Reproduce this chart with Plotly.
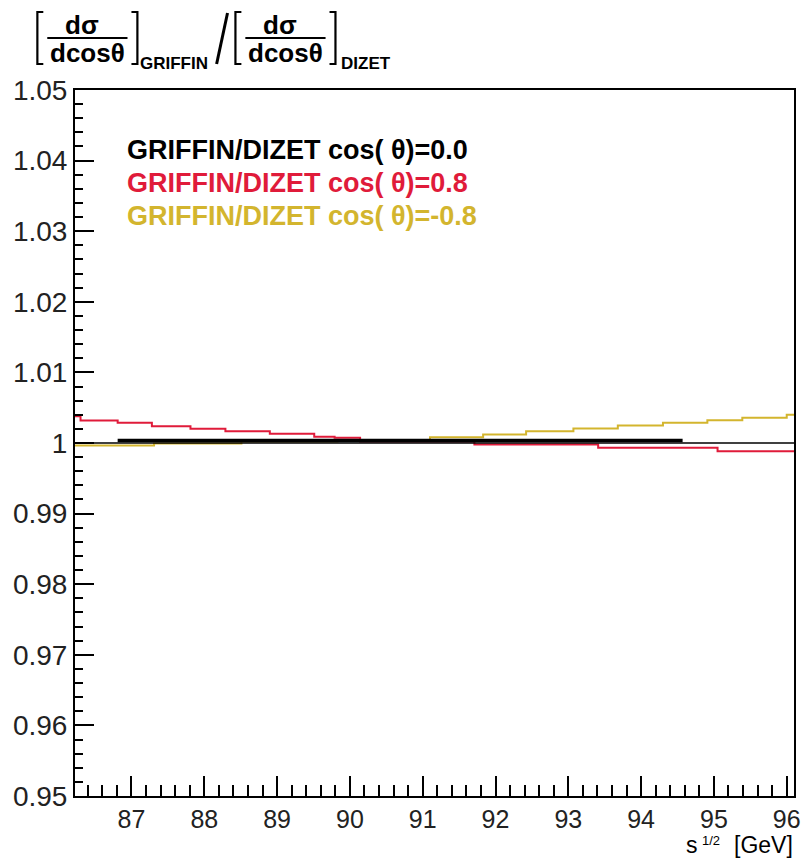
import plotly.graph_objects as go

# ---------------- data ----------------
red_edges = [86.22, 86.30, 86.81, 87.28, 87.81, 88.29, 88.90, 89.51, 89.79, 90.14, 91.71, 93.41, 95.05, 96.10]
red_vals = [1.0038, 1.0032, 1.00286, 1.00238, 1.00201, 1.00167, 1.0013, 1.00088, 1.00075, 1.0002, 0.9998, 0.99932, 0.99884]

yellow_edges = [86.22, 87.31, 88.51, 89.83, 91.10, 91.83, 92.42, 93.07, 93.68, 94.30, 94.91, 95.39, 96.00, 96.10]
yellow_vals = [0.99965, 0.99993, 1.0002, 1.0004, 1.0008, 1.0012, 1.00167, 1.00205, 1.00248, 1.00286, 1.00323, 1.00357, 1.0040]

black_edges = [86.81, 94.57]
black_vals = [1.00035]

legend_labels = ["GRIFFIN/DIZET cos( θ)=0.0", "GRIFFIN/DIZET cos( θ)=0.8", "GRIFFIN/DIZET cos( θ)=-0.8"]

x_tickvals = [87, 88, 89, 90, 91, 92, 93, 94, 95, 96]
x_ticktext = ["87", "88", "89", "90", "91", "92", "93", "94", "95", "96"]
y_tickvals = [0.95, 0.96, 0.97, 0.98, 0.99, 1.0, 1.01, 1.02, 1.03, 1.04, 1.05]
y_ticktext = ["0.95", "0.96", "0.97", "0.98", "0.99", "1", "1.01", "1.02", "1.03", "1.04", "1.05"]

# ---------------- styles ----------------
W, H = 806, 859
L, R, T, B = 75, 5, 90, 63
PW, PH = W - L - R, H - T - B
RED = "#e01b3a"
YEL = "#d3b52e"
FONT = "Liberation Sans, Arial, Helvetica, sans-serif"


def xp(px):
    return (px - L) / PW


def yp(py):
    return (H - B - py) / PH


def step(edges, vals):
    return list(edges), list(vals) + [vals[-1]]


fig = go.Figure()
for edges, vals, col, w in [(yellow_edges, yellow_vals, YEL, 2),
                            (red_edges, red_vals, RED, 2),
                            (black_edges, black_vals, "black", 3.5)]:
    xs, ys = step(edges, vals)
    fig.add_trace(go.Scatter(x=xs, y=ys, mode="lines", line=dict(color=col, width=w, shape="hv"),
                             showlegend=False, hoverinfo="skip"))

shapes = [dict(type="line", xref="paper", yref="y", x0=0, x1=1, y0=1.0, y1=1.0,
               line=dict(color="black", width=1.5))]
annotations = []

# legend texts
for lab, col, py in zip(legend_labels, ["black", RED, YEL], [150, 183, 216]):
    annotations.append(dict(text="<b>" + lab + "</b>", xref="paper", yref="paper", x=xp(125), y=yp(py),
                            xanchor="left", yanchor="middle", showarrow=False,
                            font=dict(family=FONT, size=27, color=col)))

# title: [dσ/dcosθ]_GRIFFIN / [dσ/dcosθ]_DIZET
def frac(x_left, x_right, sub, sub_x):
    cx = (x_left + x_right) / 2
    annotations.append(dict(text="<b>dσ</b>", xref="paper", yref="paper", x=xp(cx - 5), y=yp(25),
                            xanchor="center", yanchor="middle", showarrow=False,
                            font=dict(family=FONT, size=26, color="black")))
    annotations.append(dict(text="<b>dcosθ</b>", xref="paper", yref="paper", x=xp(cx), y=yp(53),
                            xanchor="center", yanchor="middle", showarrow=False,
                            font=dict(family=FONT, size=26, color="black")))
    shapes.append(dict(type="line", xref="paper", yref="paper", x0=xp(x_left), x1=xp(x_right),
                       y0=yp(38), y1=yp(38), line=dict(color="black", width=2)))
    bl, br = x_left - 10, x_right + 4
    shapes.append(dict(type="path", xref="paper", yref="paper",
                       path=f"M {xp(bl+6)},{yp(12)} L {xp(bl)},{yp(12)} L {xp(bl)},{yp(64)} L {xp(bl+6)},{yp(64)}",
                       line=dict(color="black", width=2.2)))
    shapes.append(dict(type="path", xref="paper", yref="paper",
                       path=f"M {xp(br)},{yp(12)} L {xp(br+6)},{yp(12)} L {xp(br+6)},{yp(64)} L {xp(br)},{yp(64)}",
                       line=dict(color="black", width=2.2)))
    annotations.append(dict(text="<b>" + sub + "</b>", xref="paper", yref="paper", x=xp(sub_x), y=yp(63),
                            xanchor="left", yanchor="middle", showarrow=False,
                            font=dict(family=FONT, size=17, color="black")))


frac(47, 128, "GRIFFIN", 139)
frac(247, 328, "DIZET", 342)
shapes.append(dict(type="line", xref="paper", yref="paper", x0=xp(218), x1=xp(229), y0=yp(64), y1=yp(13),
                   line=dict(color="black", width=3)))

# x axis title: s^{1/2} [GeV] (superscript as its own small text)
annotations.append(dict(text="[GeV]", xref="paper", yref="paper", x=xp(802), y=yp(845),
                        xanchor="right", yanchor="middle", showarrow=False,
                        font=dict(family=FONT, size=23, color="black")))
annotations.append(dict(text="s", xref="paper", yref="paper", x=xp(706), y=yp(845),
                        xanchor="right", yanchor="middle", showarrow=False,
                        font=dict(family=FONT, size=23, color="black")))
annotations.append(dict(text="1/2", xref="paper", yref="paper", x=xp(706), y=yp(840),
                        xanchor="left", yanchor="middle", showarrow=False,
                        font=dict(family=FONT, size=13, color="black")))

axis_common = dict(showline=True, linecolor="black", linewidth=2, mirror=True, showgrid=False,
                   zeroline=False, ticks="inside", tickcolor="black", tickwidth=1.5,
                   ticklabeloverflow="allow")

fig.update_layout(
    width=W, height=H, margin=dict(l=L, r=R, t=T, b=B),
    paper_bgcolor="white", plot_bgcolor="white",
    shapes=shapes, annotations=annotations,
    xaxis=dict(range=[86.224, 96.1], tickvals=x_tickvals, ticktext=x_ticktext, ticklen=20,
               tickfont=dict(family=FONT, size=25, color="#222222"),
               minor=dict(dtick=0.2, tick0=86, ticks="inside", ticklen=11, tickcolor="black", tickwidth=1.5,
                          showgrid=False),
               **axis_common),
    yaxis=dict(range=[0.95, 1.05], tickvals=y_tickvals, ticktext=y_ticktext, ticklen=19,
               tickfont=dict(family=FONT, size=28, color="#222222"),
               minor=dict(dtick=0.002, tick0=0.95, ticks="inside", ticklen=8, tickcolor="black", tickwidth=1.5,
                          showgrid=False),
               **axis_common),
)

fig.write_html("out.html", config={"displayModeBar": False},
               post_script="document.body.style.margin='0';document.body.style.overflow='hidden';")
